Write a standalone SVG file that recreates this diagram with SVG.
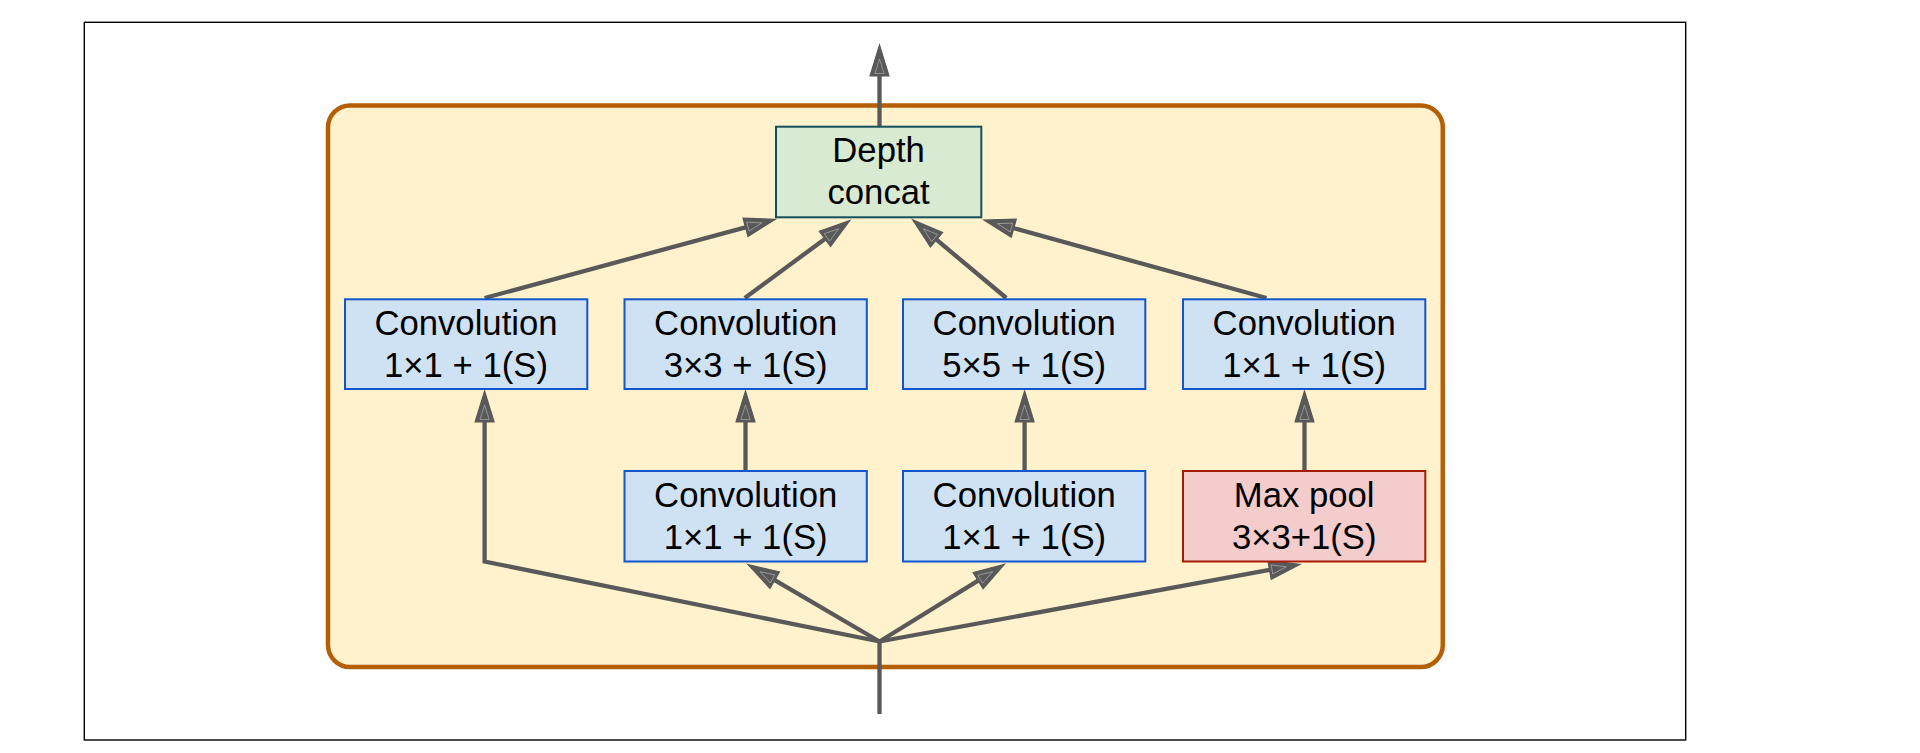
<svg xmlns="http://www.w3.org/2000/svg" width="1920" height="753" viewBox="0 0 1920 753">
<defs>
<style>
.frame{fill:#ffffff;stroke:#000000;stroke-width:1.4}
.module{fill:#fff2cc;stroke:#b45f06;stroke-width:4.5}
.conv{fill:#cfe2f3;stroke:#1155cc;stroke-width:2}
.concat{fill:#d9ead3;stroke:#134f5c;stroke-width:2}
.pool{fill:#f4cccc;stroke:#a61c00;stroke-width:2}
.lbl{font-family:"Liberation Sans",Arial,sans-serif;font-size:34.7px;fill:#000000;text-anchor:middle}
.edge{fill:none;stroke:#595959;stroke-width:4.3;stroke-linejoin:miter}
</style>
<marker id="arr" markerUnits="userSpaceOnUse" viewBox="-1 -11 34 22" refX="0" refY="0" markerWidth="34" markerHeight="22" orient="auto" overflow="visible">
<path d="M0,-9.5 L31,0 L0,9.5 Z" fill="#595959" stroke="#595959" stroke-width="1.2" stroke-linejoin="miter"/>
<path d="M2.5,-4.6 L17,0 L2.5,4.6 Z" fill="none" stroke="#b8b8b8" stroke-width="0.6"/>
</marker>
</defs>
<rect width="1920" height="753" fill="#ffffff"/>
<rect class="frame" x="84.3" y="22.3" width="1601.4" height="717.7"/>
<rect class="module" x="328" y="105.5" width="1114.8" height="561.5" rx="22" ry="22"/>

<g id="connectors">
<path class="edge" d="M879.5,714 L879.5,641.5"/>
<path class="edge" d="M879.5,641.5 L484.6,561.5 L484.6,422" marker-end="url(#arr)"/>
<path class="edge" d="M879.5,641.5 L774.7,580.2" marker-end="url(#arr)"/>
<path class="edge" d="M879.5,641.5 L978.1,580.6" marker-end="url(#arr)"/>
<path class="edge" d="M879.5,641.5 L1269.5,569.9" marker-end="url(#arr)"/>
<path class="edge" d="M745.5,470 L745.5,422" marker-end="url(#arr)"/>
<path class="edge" d="M1024.6,470 L1024.6,422" marker-end="url(#arr)"/>
<path class="edge" d="M1304.5,470 L1304.5,422" marker-end="url(#arr)"/>
<path class="edge" d="M484.6,298 L745.5,227.3" marker-end="url(#arr)"/>
<path class="edge" d="M744.8,298 L824.9,238.9" marker-end="url(#arr)"/>
<path class="edge" d="M1006.3,298 L936.5,239.7" marker-end="url(#arr)"/>
<path class="edge" d="M1266.5,298 L1013.8,228.2" marker-end="url(#arr)"/>
<path class="edge" d="M879.5,126 L879.5,76" marker-end="url(#arr)"/>
</g>

<g id="depth-concat">
<rect class="concat" x="776" y="126.7" width="205.3" height="90.6"/>
<text class="lbl" x="878.6" y="161.7">Depth</text>
<text class="lbl" x="878.6" y="204">concat</text>
</g>

<g id="conv-1x1-a">
<rect class="conv" x="345" y="299.3" width="242.3" height="89.7"/>
<text class="lbl" x="466" y="335">Convolution</text>
<text class="lbl" x="466" y="377.3">1×1 + 1(S)</text>
</g>
<g id="conv-3x3">
<rect class="conv" x="624.5" y="299.3" width="242.3" height="89.7"/>
<text class="lbl" x="745.7" y="335">Convolution</text>
<text class="lbl" x="745.7" y="377.3">3×3 + 1(S)</text>
</g>
<g id="conv-5x5">
<rect class="conv" x="903" y="299.3" width="242.3" height="89.7"/>
<text class="lbl" x="1024.2" y="335">Convolution</text>
<text class="lbl" x="1024.2" y="377.3">5×5 + 1(S)</text>
</g>
<g id="conv-1x1-d">
<rect class="conv" x="1183" y="299.3" width="242.3" height="89.7"/>
<text class="lbl" x="1304.2" y="335">Convolution</text>
<text class="lbl" x="1304.2" y="377.3">1×1 + 1(S)</text>
</g>

<g id="conv-1x1-b">
<rect class="conv" x="624.5" y="471" width="242.3" height="90.5"/>
<text class="lbl" x="745.7" y="506.5">Convolution</text>
<text class="lbl" x="745.7" y="548.8">1×1 + 1(S)</text>
</g>
<g id="conv-1x1-c">
<rect class="conv" x="903" y="471" width="242.3" height="90.5"/>
<text class="lbl" x="1024.2" y="506.5">Convolution</text>
<text class="lbl" x="1024.2" y="548.8">1×1 + 1(S)</text>
</g>
<g id="max-pool">
<rect class="pool" x="1183" y="471" width="242.3" height="90.5"/>
<text class="lbl" x="1304.2" y="506.5">Max pool</text>
<text class="lbl" x="1304.2" y="548.8">3×3+1(S)</text>
</g>
</svg>
